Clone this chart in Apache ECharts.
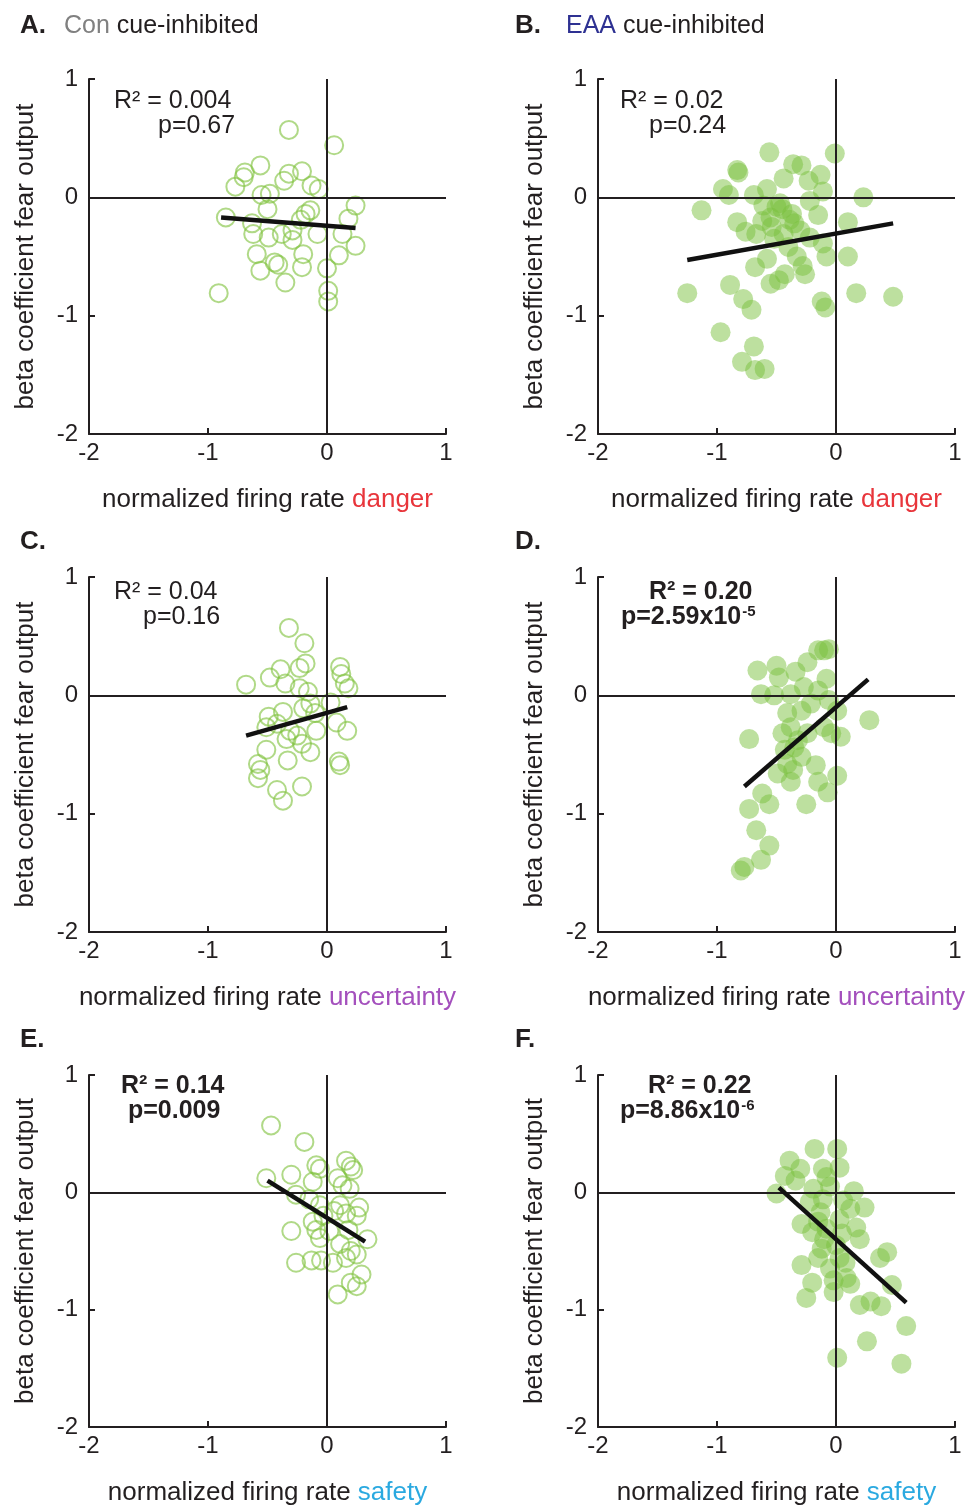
<!DOCTYPE html>
<html>
<head>
<meta charset="utf-8">
<script src="https://cdn.jsdelivr.net/npm/echarts@6/dist/echarts.min.js"></script>
<style>html,body{margin:0;padding:0;background:#fff}#c{width:973px;height:1507px}</style>
</head>
<body>
<div id="c"></div>
<script>
// ---- data ----
const conDanger = [[-0.32,0.57],[0.06,0.44],[-0.56,0.27],[-0.69,0.21],[-0.70,0.17],[-0.77,0.09],[-0.32,0.20],[-0.21,0.22],[-0.36,0.14],[-0.13,0.10],[-0.07,0.07],[-0.55,0.02],[-0.48,0.03],[-0.85,-0.17],[0.24,-0.07],[0.18,-0.18],[-0.50,-0.10],[-0.63,-0.22],[-0.62,-0.31],[-0.49,-0.34],[-0.38,-0.31],[-0.29,-0.28],[-0.29,-0.36],[-0.14,-0.11],[-0.08,-0.31],[0.13,-0.31],[0.24,-0.41],[-0.59,-0.48],[-0.44,-0.55],[-0.41,-0.57],[-0.20,-0.48],[0.10,-0.49],[-0.56,-0.62],[-0.21,-0.59],[-0.35,-0.72],[0.00,-0.60],[-0.91,-0.81],[0.01,-0.79],[0.01,-0.88],[-0.22,-0.19],[-0.18,-0.14]];
const eaaDanger = [[-0.56,0.38],[-0.01,0.37],[-0.83,0.23],[-0.82,0.21],[-0.36,0.28],[-0.29,0.27],[-0.13,0.19],[-0.44,0.16],[-0.23,0.14],[-0.95,0.07],[-0.90,0.02],[-0.69,0.02],[-0.58,0.07],[0.23,0.0],[-1.13,-0.11],[-0.83,-0.21],[-0.61,-0.07],[-0.47,-0.05],[-0.37,-0.14],[-0.15,-0.15],[0.10,-0.21],[-0.76,-0.29],[-0.67,-0.31],[-0.54,-0.25],[-0.44,-0.31],[-0.30,-0.28],[-0.22,-0.34],[-0.11,-0.39],[-0.40,-0.42],[-0.33,-0.50],[-0.58,-0.52],[0.10,-0.50],[-0.08,-0.50],[-0.68,-0.59],[-0.43,-0.65],[-0.26,-0.65],[-0.55,-0.73],[-0.89,-0.74],[-1.25,-0.81],[0.17,-0.81],[0.48,-0.84],[-0.78,-0.86],[-0.71,-0.95],[-0.12,-0.88],[-0.09,-0.93],[-0.97,-1.14],[-0.69,-1.26],[-0.79,-1.39],[-0.68,-1.46],[-0.60,-1.45],[-0.50,-0.08],[-0.55,-0.17],[-0.39,-0.19],[-0.22,-0.03],[-0.11,0.05],[-0.45,-0.10],[-0.52,-0.35],[-0.35,-0.22],[-0.62,-0.20],[-0.28,-0.58],[-0.48,-0.70]];
const conUncert = [[-0.32,0.57],[-0.19,0.44],[-0.18,0.27],[-0.23,0.23],[-0.39,0.22],[-0.48,0.15],[-0.35,0.10],[-0.68,0.09],[0.11,0.24],[0.12,0.18],[0.15,0.10],[0.18,0.06],[-0.23,0.06],[-0.16,0.03],[0.03,-0.06],[-0.14,-0.07],[-0.20,-0.11],[-0.37,-0.14],[-0.49,-0.18],[-0.10,-0.15],[-0.51,-0.27],[-0.42,-0.24],[-0.31,-0.30],[-0.34,-0.37],[-0.25,-0.34],[-0.09,-0.30],[0.08,-0.23],[0.17,-0.30],[-0.51,-0.46],[-0.33,-0.55],[-0.14,-0.48],[-0.21,-0.41],[-0.58,-0.58],[-0.56,-0.63],[0.10,-0.56],[0.11,-0.59],[-0.58,-0.70],[-0.42,-0.80],[-0.21,-0.77],[-0.37,-0.89]];
const eaaUncert = [[-0.10,0.38],[-0.06,0.39],[-0.15,0.38],[-0.66,0.21],[-0.50,0.25],[-0.48,0.15],[-0.34,0.20],[-0.24,0.28],[-0.08,0.14],[-0.63,0.01],[-0.52,0.0],[-0.38,0.01],[-0.27,0.07],[-0.15,0.04],[-0.06,-0.04],[-0.21,-0.07],[-0.41,-0.15],[-0.29,-0.13],[0.01,-0.13],[0.28,-0.21],[-0.73,-0.37],[-0.45,-0.32],[-0.38,-0.27],[-0.10,-0.27],[0.04,-0.35],[-0.04,-0.32],[-0.32,-0.38],[-0.43,-0.46],[-0.29,-0.52],[-0.17,-0.59],[0.01,-0.68],[-0.36,-0.63],[-0.49,-0.66],[-0.15,-0.73],[-0.07,-0.82],[-0.38,-0.73],[-0.62,-0.83],[-0.56,-0.92],[-0.73,-0.96],[-0.25,-0.92],[-0.67,-1.14],[-0.56,-1.27],[-0.63,-1.39],[-0.77,-1.45],[-0.80,-1.48],[-0.41,-0.58],[-0.35,-0.44],[-0.24,-0.32]];
const conSafety = [[-0.47,0.57],[-0.19,0.43],[-0.09,0.23],[-0.06,0.20],[0.16,0.27],[0.20,0.22],[0.22,0.19],[-0.30,0.15],[-0.51,0.12],[-0.12,0.09],[0.09,0.12],[0.13,0.06],[0.19,0.03],[-0.26,-0.02],[-0.15,-0.06],[-0.06,-0.11],[0.11,-0.11],[0.27,-0.13],[0.16,-0.18],[-0.03,-0.20],[-0.12,-0.25],[0.25,-0.20],[-0.30,-0.33],[-0.09,-0.32],[0.02,-0.33],[0.18,-0.32],[0.34,-0.40],[-0.06,-0.39],[0.11,-0.44],[0.20,-0.50],[0.25,-0.53],[-0.26,-0.60],[-0.13,-0.58],[-0.05,-0.58],[0.05,-0.60],[0.16,-0.56],[0.29,-0.70],[0.20,-0.77],[0.25,-0.80],[0.09,-0.87],[0.06,-0.16]];
const eaaSafety = [[-0.18,0.37],[0.01,0.37],[-0.39,0.27],[-0.30,0.20],[-0.43,0.14],[-0.34,0.10],[-0.11,0.20],[0.03,0.21],[-0.08,0.13],[-0.50,-0.01],[-0.19,0.03],[0.15,0.01],[-0.11,-0.06],[0.06,-0.07],[0.24,-0.13],[-0.29,-0.27],[-0.20,-0.34],[0.17,-0.30],[-0.08,-0.31],[0.03,-0.23],[-0.12,-0.48],[0.43,-0.51],[0.37,-0.56],[-0.29,-0.62],[-0.05,-0.65],[0.09,-0.73],[-0.20,-0.77],[0.47,-0.79],[-0.25,-0.90],[-0.02,-0.85],[0.20,-0.96],[0.29,-0.93],[0.38,-0.97],[0.59,-1.14],[0.26,-1.27],[0.01,-1.41],[0.55,-1.46],[-0.15,-0.56],[0.03,-0.56],[0.12,-0.14],[-0.13,-0.17],[-0.05,0.05],[-0.10,-0.40],[0.00,-0.45],[0.05,-0.35],[-0.15,-0.25],[0.08,-0.60],[-0.02,-0.75],[0.12,-0.78],[-0.22,-0.08],[0.20,-0.40]];

// regression line end points
const conDangerFit = [[-0.89,-0.17],[0.24,-0.26]];
const eaaDangerFit = [[-1.25,-0.53],[0.48,-0.22]];
const conUncertFit = [[-0.68,-0.34],[0.17,-0.10]];
const eaaUncertFit = [[-0.77,-0.77],[0.27,0.135]];
const conSafetyFit = [[-0.50,0.10],[0.32,-0.42]];
const eaaSafetyFit = [[-0.48,0.04],[0.59,-0.94]];

// stats text
const statR2 = ['0.004','0.02','0.04','0.20','0.14','0.22'];
const statP = ['0.67','0.24','0.16','2.59x10','0.009','8.86x10'];
const statPExp = ['','','','-5','','-6'];
const statBold = [false,false,false,true,true,true];

const panelLetters = ['A.','B.','C.','D.','E.','F.'];
const groupNames = ['Con','EAA'];
const cueWords = ['danger','uncertainty','safety'];
const axisTicks = [-2,-1,0,1];

// ---- layout / styles ----
const FONT = '"Liberation Sans", Arial, Helvetica, sans-serif';
const TXT = '#231f20';
const cueColors = ['#e8353b','#a450bd','#2aa9e0'];
const groupColors = ['#808080','#2e3192'];
const colLeft = [89, 598];
const rowTop = [79, 577, 1075];
const W = 357, H = 355;

const pts = [conDanger, eaaDanger, conUncert, eaaUncert, conSafety, eaaSafety];
const fits = [conDangerFit, eaaDangerFit, conUncertFit, eaaUncertFit, conSafetyFit, eaaSafetyFit];

const grid = [], xAxis = [], yAxis = [], series = [], title = [];

// stat text positions (left, top of R² line; left of p line)
const statPos = [
  [114, 88, 158], [620, 88, 649],
  [114, 579, 143], [649, 579, 621],
  [121, 1073, 128], [648, 1073, 620]
];

for (let i = 0; i < 6; i++) {
  const col = i % 2, row = Math.floor(i / 2);
  grid.push({left: colLeft[col], top: rowTop[row], width: W, height: H});
  xAxis.push({
    type: 'value', gridIndex: i, min: axisTicks[0], max: axisTicks[3], interval: 1,
    axisLine: {onZero: false, lineStyle: {color: TXT, width: 2}},
    axisTick: {inside: true, length: 6, lineStyle: {color: TXT, width: 2}},
    splitLine: {show: false},
    axisLabel: {fontSize: 24, color: TXT, fontFamily: FONT, margin: 7},
    name: '{n|normalized firing rate }{c|' + cueWords[row] + '}',
    nameLocation: 'middle', nameGap: 53, nameMoveOverlap: false,
    nameTextStyle: {rich: {
      n: {fontSize: 26, color: TXT, fontFamily: FONT},
      c: {fontSize: 26, color: cueColors[row], fontFamily: FONT}
    }}
  });
  yAxis.push({
    type: 'value', gridIndex: i, min: axisTicks[0], max: axisTicks[3], interval: 1,
    axisLine: {onZero: false, lineStyle: {color: TXT, width: 2}},
    axisTick: {inside: true, length: 6, lineStyle: {color: TXT, width: 2}},
    splitLine: {show: false},
    axisLabel: {fontSize: 24, color: TXT, fontFamily: FONT, margin: 11},
    name: 'beta coefficient fear output',
    nameLocation: 'middle', nameGap: 50, nameMoveOverlap: false,
    nameTextStyle: {fontSize: 26, color: TXT, fontFamily: FONT}
  });
  const filled = col === 1;
  series.push({
    type: 'scatter', xAxisIndex: i, yAxisIndex: i, data: pts[i],
    symbol: 'circle', symbolSize: filled ? 20 : 18,
    itemStyle: filled
      ? {color: 'rgba(122,193,60,0.62)', borderWidth: 0}
      : {color: 'rgba(255,255,255,0)', borderColor: 'rgba(128,194,62,0.78)', borderWidth: 2},
    emphasis: {disabled: true}, silent: true, z: 2,
    markLine: {
      silent: true, symbol: 'none', animation: false,
      label: {show: false},
      lineStyle: {color: TXT, width: 2, type: 'solid'},
      data: [{xAxis: 0}, {yAxis: 0}]
    }
  });
  series.push({
    type: 'line', xAxisIndex: i, yAxisIndex: i, data: fits[i],
    symbol: 'none', lineStyle: {color: '#111', width: 4.5}, silent: true, z: 5, animation: false
  });

  // panel heading
  const hx = col === 0 ? 20 : 515;
  title.push({
    left: hx, top: (row === 0 ? 12 : rowTop[row] - 49), padding: 0,
    text: '{b|' + panelLetters[i] + '}' + (row === 0 ? '{g' + col + '|' + groupNames[col] + '}{k| cue-inhibited}' : ''),
    textStyle: {fontWeight: 'normal', rich: {
      b: {fontSize: 26, fontWeight: 'bold', color: TXT, fontFamily: FONT, lineHeight: 28, padding: [0, col === 0 ? 18 : 25, 0, 0]},
      g0: {fontSize: 25, fontWeight: 'normal', color: groupColors[0], fontFamily: FONT, lineHeight: 28},
      g1: {fontSize: 25, fontWeight: 'normal', color: groupColors[1], fontFamily: FONT, lineHeight: 28},
      k: {fontSize: 25, fontWeight: 'normal', color: TXT, fontFamily: FONT, lineHeight: 28}
    }}
  });

  // stats
  const fw = statBold[i] ? 'bold' : 'normal';
  const sp = statPos[i];
  title.push({
    left: sp[0], top: sp[1], padding: 0,
    text: 'R\u00B2 = ' + statR2[i],
    textStyle: {fontSize: 25, fontWeight: fw, color: TXT, fontFamily: FONT, lineHeight: 26}
  });
  title.push({
    left: sp[2], top: sp[1] + 25, padding: 0,
    text: '{p|p=' + statP[i] + '}' + (statPExp[i] ? '{s|' + statPExp[i] + '}' : ''),
    textStyle: {fontWeight: fw, rich: {
      p: {fontSize: 25, fontWeight: fw, color: TXT, fontFamily: FONT, lineHeight: 26},
      s: {fontSize: 15, fontWeight: fw, color: TXT, fontFamily: FONT, lineHeight: 26, verticalAlign: 'top', padding: [0, 0, 10, 1]}
    }}
  });
}

const chart = echarts.init(document.getElementById('c'), null, {renderer: 'canvas'});
chart.setOption({
  animation: false,
  backgroundColor: '#fff',
  title: title, grid: grid, xAxis: xAxis, yAxis: yAxis, series: series
});
</script>
</body>
</html>
